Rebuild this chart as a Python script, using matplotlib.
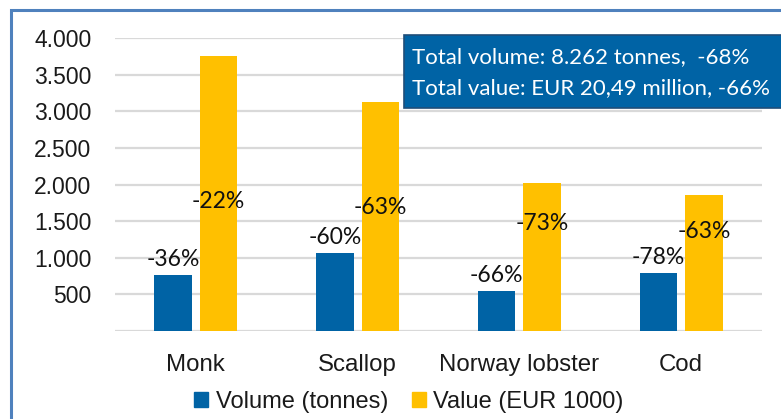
import matplotlib
matplotlib.use("Agg")
import matplotlib.pyplot as plt
from matplotlib.patches import Rectangle, Patch
import numpy as np

categories = ["Monk", "Scallop", "Norway lobster", "Cod"]
volume = [770, 1070, 551, 797]
value = [3763, 3134, 2019, 1859]
volume_change = ["-36%", "-60%", "-66%", "-78%"]
value_change = ["-22%", "-63%", "-73%", "-63%"]
yticks = [500, 1000, 1500, 2000, 2500, 3000, 3500, 4000]
ytick_labels = ["500", "1.000", "1.500", "2.000", "2.500", "3.000", "3.500", "4.000"]
series_names = ["Volume (tonnes)", "Value (EUR 1000)"]
box_lines = ["Total volume: 8.262 tonnes,  -68%", "Total value: EUR 20,49 million, -66%"]

# layout: relative height (fraction of bar) at which value labels sit
value_label_frac = [0.47, 0.54, 0.73, 0.73]

BLUE = "#0063A5"
YELLOW = "#FFC000"
W, H = 781, 419
fig = plt.figure(figsize=(W / 100, H / 100), dpi=100)

ax = fig.add_axes([115 / W, 1 - 331 / H, (762 - 115) / W, (331 - 38.3) / H])
x = np.arange(len(categories))
bw = 0.232
off = 0.141
ax.bar(x - off, volume, bw, color=BLUE, zorder=3)
ax.bar(x + off, value, bw, color=YELLOW, zorder=3)
ax.set_xlim(-0.5, len(categories) - 0.5)
ax.set_ylim(0, 4000)
ax.set_yticks(yticks)
ax.set_yticklabels(ytick_labels, family="Liberation Sans", fontsize=16.5, color="#1A1A1A")
ax.set_xticks(x)
ax.set_xticklabels(categories, family="Liberation Sans", fontsize=17.3, color="#1A1A1A")
ax.tick_params(axis="both", length=0)
ax.tick_params(axis="y", pad=17)
ax.tick_params(axis="x", pad=16.5)
for s in ax.spines.values():
    s.set_visible(False)
ax.grid(axis="y", color="#D9D9D9", linewidth=1.6, zorder=0)
ax.axhline(0, color="#D9D9D9", linewidth=1.6, zorder=1)

for i in range(len(categories)):
    ax.annotate(volume_change[i], (x[i] - off, volume[i]), xytext=(0, 3.5),
                textcoords="offset points", ha="center", va="bottom",
                family="Lato", fontsize=16.5, color="#111111", zorder=5)
    ax.text(x[i] + off, value[i] * value_label_frac[i], value_change[i],
            ha="center", va="center", family="Lato", fontsize=16.5,
            color="#111111", zorder=5)

# outer border
fig.patches.append(Rectangle((10.5 / W, -0.2), 1.2, 1.2 - 9.5 / H, transform=fig.transFigure,
                             fill=False, edgecolor="#4F81BD", linewidth=2.2))

# info box
fig.patches.append(Rectangle((403.5 / W, 1 - 108 / H), (800 - 403.5) / W, 73 / H,
                             transform=fig.transFigure, facecolor=BLUE,
                             edgecolor="#1F4E79", linewidth=1.2, zorder=10))
fig.text(412 / W, 1 - 57.5 / H, box_lines[0], ha="left", va="center", family="Lato",
         fontsize=16, color="white", zorder=11)
fig.text(412 / W, 1 - 88.5 / H, box_lines[1], ha="left", va="center", family="Lato",
         fontsize=16, color="white", zorder=11)

handles = [Patch(color=BLUE), Patch(color=YELLOW)]
leg = fig.legend(handles, series_names, loc="center", bbox_to_anchor=(408.7 / W, 1 - 401.7 / H),
                 ncol=2, frameon=False, handlelength=0.6, handleheight=0.6,
                 handletextpad=0.3, columnspacing=1.0,
                 prop={"family": "Liberation Sans", "size": 17})
for t in leg.get_texts():
    t.set_color("#1A1A1A")

fig.savefig("out.png", dpi=100)
